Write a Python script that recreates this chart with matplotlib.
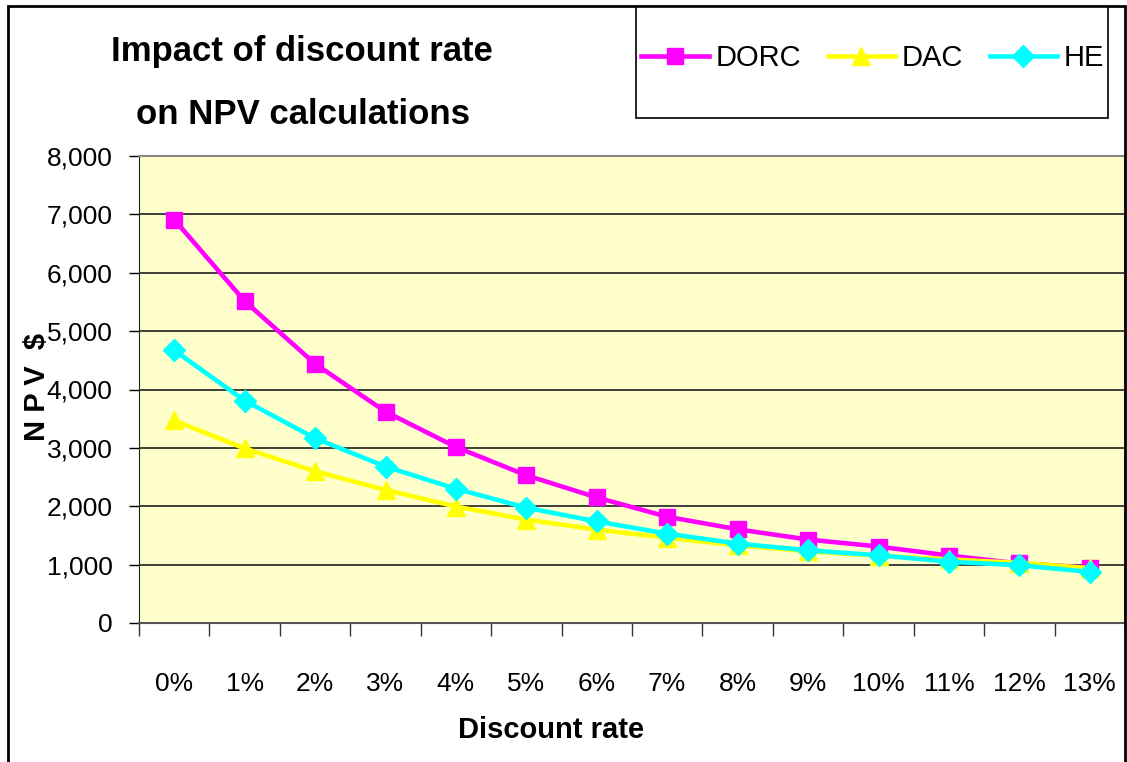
import numpy as np
import matplotlib.pyplot as plt
from matplotlib.patches import Rectangle

plt.rcParams['font.family'] = ['Liberation Sans Narrow', 'Liberation Sans', 'DejaVu Sans']

# discount rates and NPV ($)
rates = ['0%', '1%', '2%', '3%', '4%', '5%', '6%', '7%', '8%', '9%', '10%', '11%', '12%', '13%']
dorc = [6910, 5515, 4440, 3620, 3015, 2530, 2150, 1820, 1605, 1430, 1310, 1155, 1020, 950]
dac = [3470, 2990, 2600, 2280, 1995, 1770, 1600, 1460, 1330, 1230, 1150, 1090, 1030, 940]
he = [4670, 3810, 3165, 2680, 2300, 1975, 1740, 1530, 1360, 1246, 1160, 1050, 990, 875]

W, H = 1127, 762
fig = plt.figure(figsize=(W / 100, H / 100), dpi=100)

# outer chart frame
fig.patches.append(Rectangle((8 / W, -0.01), (1125 - 8) / W, 1 - 6 / H + 0.01,
                             transform=fig.transFigure, fill=False, ec='black', lw=2))

ax = fig.add_axes([139 / W, 1 - 623 / H, (1125 - 139) / W, (623 - 156) / H])
ax.set_facecolor('#FFFFCC')

x = np.arange(len(rates))
ax.plot(x, dorc, color='#FF00FF', lw=3.3, marker='s', ms=12, label='DORC', zorder=3)
ax.plot(x, dac, color='#FFFF00', lw=3.3, marker='^', ms=13, label='DAC', zorder=3)
ax.plot(x, he, color='#00FFFF', lw=3.3, marker='D', ms=11, label='HE', zorder=4)

ax.set_xlim(-0.5, len(rates) - 0.5)
ax.set_ylim(0, 8000)
ax.set_yticks(range(0, 8001, 1000))
ax.set_yticklabels([f'{v:,}' for v in range(0, 8001, 1000)], fontsize=19)
ax.yaxis.grid(True, color='#333333', lw=1.3)
ax.set_axisbelow(True)

ax.set_xticks(x)
ax.set_xticklabels(rates, fontsize=19)
ax.set_xticks(np.arange(-0.5, len(rates)), minor=True)
ax.tick_params(axis='x', which='major', length=0, pad=35)
ax.tick_params(axis='x', which='minor', length=9, width=1, color='#333333', direction='out')
ax.tick_params(axis='y', length=7, width=1, pad=12, direction='out')

for s in ['top', 'right']:
    ax.spines[s].set_color('#888888')
    ax.spines[s].set_linewidth(1.5)
ax.spines['left'].set_color('#222222')
ax.spines['bottom'].set_color('#555555')
ax.spines['bottom'].set_linewidth(1.5)

fig.text(302 / W, 1 - 52 / H, 'Impact of discount rate', fontsize=25, fontweight='bold',
         ha='center', va='center')
fig.text(303 / W, 1 - 115 / H, 'on NPV calculations', fontsize=25, fontweight='bold',
         ha='center', va='center')
fig.text(37 / W, 1 - 387 / H, 'N P V  $', fontsize=21, fontweight='bold',
         rotation=90, ha='center', va='center')
fig.text(551 / W, 1 - 730 / H, 'Discount rate', fontsize=21, fontweight='bold',
         ha='center', va='center')

# legend box
fig.patches.append(Rectangle((636 / W, 1 - 118 / H), (1108 - 636) / W, (118 - 7) / H,
                             transform=fig.transFigure, fc='white', ec='black', lw=1.2))
leg = fig.legend(loc='center', bbox_to_anchor=(873 / W, 1 - 58 / H), ncol=3,
                 frameon=False, fontsize=21, handlelength=2.3, handletextpad=0.25,
                 columnspacing=0.9)

fig.savefig('out.png', dpi=100)
